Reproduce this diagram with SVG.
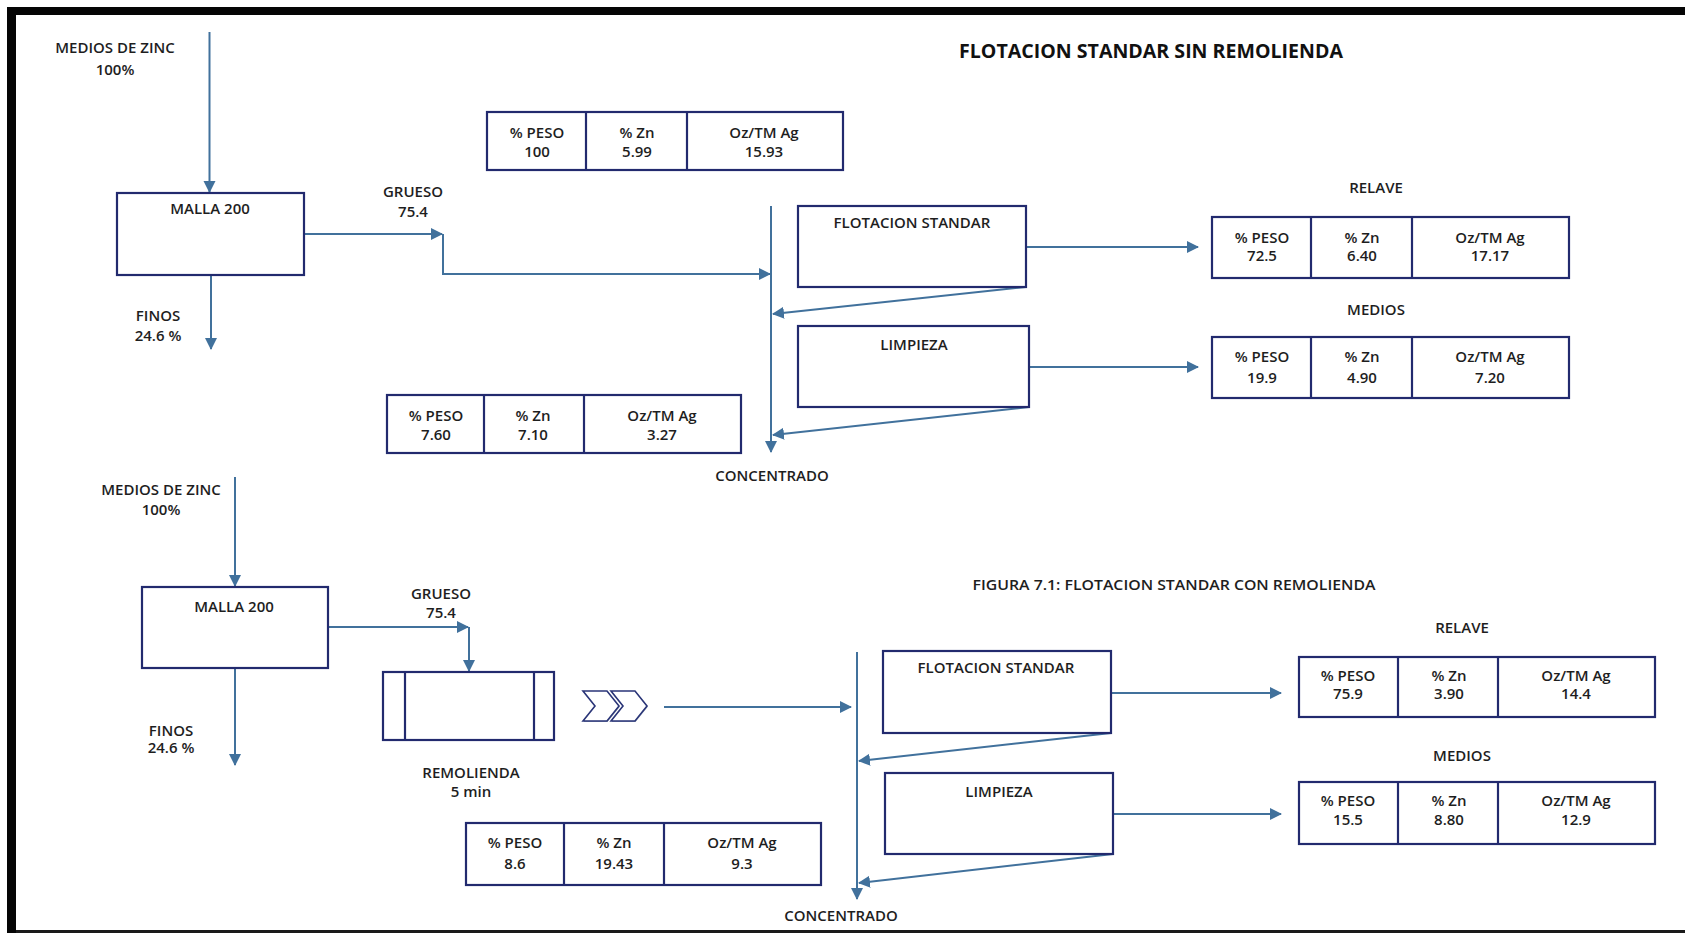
<svg xmlns="http://www.w3.org/2000/svg" width="1685" height="933" viewBox="0 0 1685 933">
  <style>
    .box { fill: #ffffff; stroke: #222a6e; stroke-width: 2.2; }
    .cell { fill: none; stroke: #222a6e; stroke-width: 2.2; }
    .conn { fill: none; stroke: #41719c; stroke-width: 2; }
    .arr { marker-end: url(#head); }
    text { font-family: "Open Sans", "Liberation Sans", sans-serif; font-size: 15px; font-weight: 600; fill: #1e1e1e; text-anchor: middle; }
    .title { font-size: 19px; font-weight: 700; fill: #111111; }
    .fig { font-size: 14px; font-weight: 600; }
    .chev { fill: #ffffff; stroke: #2a3578; stroke-width: 1.6; stroke-linejoin: miter; }
    .chev-shade { fill: none; stroke: #9aa6b8; stroke-width: 2.2; }
  </style>
  <defs>
    <marker id="head" markerUnits="userSpaceOnUse" markerWidth="13" markerHeight="13" viewBox="0 0 13 13" refX="11" refY="6.5" orient="auto">
      <path d="M0,0.5 L12,6.5 L0,12.5 z" fill="#41719c"/>
    </marker>
  </defs>

  <!-- page frame -->
  <g id="frame">
    <rect x="7" y="7" width="1678" height="8" fill="#050505"/>
    <rect x="7" y="7" width="9" height="926" fill="#050505"/>
    <rect x="16" y="930" width="1669" height="3" fill="#1a1a1a"/>
  </g>

  <!-- ===== Upper flowsheet: standard flotation without regrind ===== -->
  <g id="title-sin">
    <text class="title" x="1151" y="58" textLength="384" lengthAdjust="spacingAndGlyphs">FLOTACION STANDAR SIN REMOLIENDA</text>
  </g>

  <g id="connectors-sin">
    <line class="conn arr" x1="209.5" y1="32" x2="209.5" y2="192"/>
    <line class="conn arr" x1="211" y1="275" x2="211" y2="349"/>
    <line class="conn arr" x1="304" y1="234" x2="442" y2="234"/>
    <polyline class="conn arr" points="443,234 443,274 770,274"/>
    <line class="conn arr" x1="771" y1="206" x2="771" y2="452"/>
    <line class="conn arr" x1="1026" y1="287" x2="773" y2="314"/>
    <line class="conn arr" x1="1029" y1="407" x2="773" y2="435"/>
    <line class="conn arr" x1="1026" y1="247" x2="1198" y2="247"/>
    <line class="conn arr" x1="1029" y1="367" x2="1198" y2="367"/>
  </g>

  <g id="feed-sin">
    <text x="115" y="53">MEDIOS DE ZINC</text>
    <text x="115" y="75">100%</text>
  </g>

  <g id="malla-sin">
    <rect class="box" x="117" y="193" width="187" height="82"/>
    <text x="210" y="214">MALLA 200</text>
  </g>

  <g id="grueso-sin">
    <text x="413" y="197">GRUESO</text>
    <text x="413" y="217">75.4</text>
  </g>

  <g id="finos-sin">
    <text x="158" y="321">FINOS</text>
    <text x="158" y="341">24.6 %</text>
  </g>

  <g id="alim-sin">
    <rect class="box" x="487" y="112" width="356" height="58"/>
    <line class="cell" x1="586" y1="112" x2="586" y2="170"/>
    <line class="cell" x1="687" y1="112" x2="687" y2="170"/>
    <text x="537" y="138">% PESO</text>
    <text x="537" y="157">100</text>
    <text x="637" y="138">% Zn</text>
    <text x="637" y="157">5.99</text>
    <text x="764" y="138">Oz/TM Ag</text>
    <text x="764" y="157">15.93</text>
  </g>

  <g id="flot-sin">
    <rect class="box" x="798" y="206" width="228" height="81"/>
    <text x="912" y="228">FLOTACION STANDAR</text>
  </g>

  <g id="limp-sin">
    <rect class="box" x="798" y="326" width="231" height="81"/>
    <text x="914" y="350">LIMPIEZA</text>
  </g>

  <g id="relave-sin">
    <text x="1376" y="193">RELAVE</text>
    <rect class="box" x="1212" y="217" width="357" height="61"/>
    <line class="cell" x1="1311" y1="217" x2="1311" y2="278"/>
    <line class="cell" x1="1412" y1="217" x2="1412" y2="278"/>
    <text x="1262" y="243">% PESO</text>
    <text x="1262" y="261">72.5</text>
    <text x="1362" y="243">% Zn</text>
    <text x="1362" y="261">6.40</text>
    <text x="1490" y="243">Oz/TM Ag</text>
    <text x="1490" y="261">17.17</text>
  </g>

  <g id="medios-sin">
    <text x="1376" y="315">MEDIOS</text>
    <rect class="box" x="1212" y="337" width="357" height="61"/>
    <line class="cell" x1="1311" y1="337" x2="1311" y2="398"/>
    <line class="cell" x1="1412" y1="337" x2="1412" y2="398"/>
    <text x="1262" y="362">% PESO</text>
    <text x="1262" y="383">19.9</text>
    <text x="1362" y="362">% Zn</text>
    <text x="1362" y="383">4.90</text>
    <text x="1490" y="362">Oz/TM Ag</text>
    <text x="1490" y="383">7.20</text>
  </g>

  <g id="conc-sin">
    <rect class="box" x="387" y="395" width="354" height="58"/>
    <line class="cell" x1="484" y1="395" x2="484" y2="453" stroke-width="3"/>
    <line class="cell" x1="584" y1="395" x2="584" y2="453"/>
    <text x="436" y="421">% PESO</text>
    <text x="436" y="440">7.60</text>
    <text x="533" y="421">% Zn</text>
    <text x="533" y="440">7.10</text>
    <text x="662" y="421">Oz/TM Ag</text>
    <text x="662" y="440">3.27</text>
    <text x="772" y="481">CONCENTRADO</text>
  </g>

  <!-- ===== Lower flowsheet: standard flotation with regrind ===== -->
  <g id="title-con">
    <text class="fig" x="1174" y="590" textLength="403" lengthAdjust="spacingAndGlyphs">FIGURA 7.1: FLOTACION STANDAR CON REMOLIENDA</text>
  </g>

  <g id="connectors-con">
    <line class="conn arr" x1="235" y1="477" x2="235" y2="586"/>
    <line class="conn arr" x1="235" y1="668" x2="235" y2="765"/>
    <line class="conn arr" x1="328" y1="627" x2="468" y2="627"/>
    <line class="conn arr" x1="469" y1="627" x2="469" y2="671"/>
    <line class="conn arr" x1="664" y1="707" x2="851" y2="707"/>
    <line class="conn arr" x1="857" y1="652" x2="857" y2="899"/>
    <line class="conn arr" x1="1111" y1="733" x2="859" y2="761"/>
    <line class="conn arr" x1="1113" y1="854" x2="859" y2="883"/>
    <line class="conn arr" x1="1111" y1="693" x2="1281" y2="693"/>
    <line class="conn arr" x1="1113" y1="814" x2="1281" y2="814"/>
  </g>

  <g id="feed-con">
    <text x="161" y="495">MEDIOS DE ZINC</text>
    <text x="161" y="515">100%</text>
  </g>

  <g id="malla-con">
    <rect class="box" x="142" y="587" width="186" height="81"/>
    <text x="234" y="612">MALLA 200</text>
  </g>

  <g id="grueso-con">
    <text x="441" y="599">GRUESO</text>
    <text x="441" y="618">75.4</text>
  </g>

  <g id="finos-con">
    <text x="171" y="736">FINOS</text>
    <text x="171" y="753">24.6 %</text>
  </g>

  <g id="remolienda">
    <rect class="box" x="383" y="672" width="171" height="68"/>
    <line class="cell" x1="405" y1="672" x2="405" y2="740"/>
    <line class="cell" x1="534" y1="672" x2="534" y2="740"/>
    <text x="471" y="778">REMOLIENDA</text>
    <text x="471" y="797">5 min</text>
  </g>

  <g id="chevrons">
    <path class="chev-shade" d="M584,721 L607,721 L619,706 M612,721 L635,721 L647,706"/>
    <path class="chev" d="M583,691 L607,691 L619,706 L607,721 L583,721 L595,706 z"/>
    <path class="chev" d="M611,691 L635,691 L647,706 L635,721 L611,721 L623,706 z"/>
  </g>

  <g id="flot-con">
    <rect class="box" x="883" y="651" width="228" height="82"/>
    <text x="996" y="673">FLOTACION STANDAR</text>
  </g>

  <g id="limp-con">
    <rect class="box" x="885" y="773" width="228" height="81"/>
    <text x="999" y="797">LIMPIEZA</text>
  </g>

  <g id="relave-con">
    <text x="1462" y="633">RELAVE</text>
    <rect class="box" x="1299" y="657" width="356" height="60"/>
    <line class="cell" x1="1398" y1="657" x2="1398" y2="717"/>
    <line class="cell" x1="1498" y1="657" x2="1498" y2="717"/>
    <text x="1348" y="681">% PESO</text>
    <text x="1348" y="699">75.9</text>
    <text x="1449" y="681">% Zn</text>
    <text x="1449" y="699">3.90</text>
    <text x="1576" y="681">Oz/TM Ag</text>
    <text x="1576" y="699">14.4</text>
  </g>

  <g id="medios-con">
    <text x="1462" y="761">MEDIOS</text>
    <rect class="box" x="1299" y="782" width="356" height="62"/>
    <line class="cell" x1="1398" y1="782" x2="1398" y2="844"/>
    <line class="cell" x1="1498" y1="782" x2="1498" y2="844"/>
    <text x="1348" y="806">% PESO</text>
    <text x="1348" y="825">15.5</text>
    <text x="1449" y="806">% Zn</text>
    <text x="1449" y="825">8.80</text>
    <text x="1576" y="806">Oz/TM Ag</text>
    <text x="1576" y="825">12.9</text>
  </g>

  <g id="conc-con">
    <rect class="box" x="466" y="823" width="355" height="62"/>
    <line class="cell" x1="564" y1="823" x2="564" y2="885"/>
    <line class="cell" x1="664" y1="823" x2="664" y2="885"/>
    <text x="515" y="848">% PESO</text>
    <text x="515" y="869">8.6</text>
    <text x="614" y="848">% Zn</text>
    <text x="614" y="869">19.43</text>
    <text x="742" y="848">Oz/TM Ag</text>
    <text x="742" y="869">9.3</text>
    <text x="841" y="921">CONCENTRADO</text>
  </g>
</svg>
